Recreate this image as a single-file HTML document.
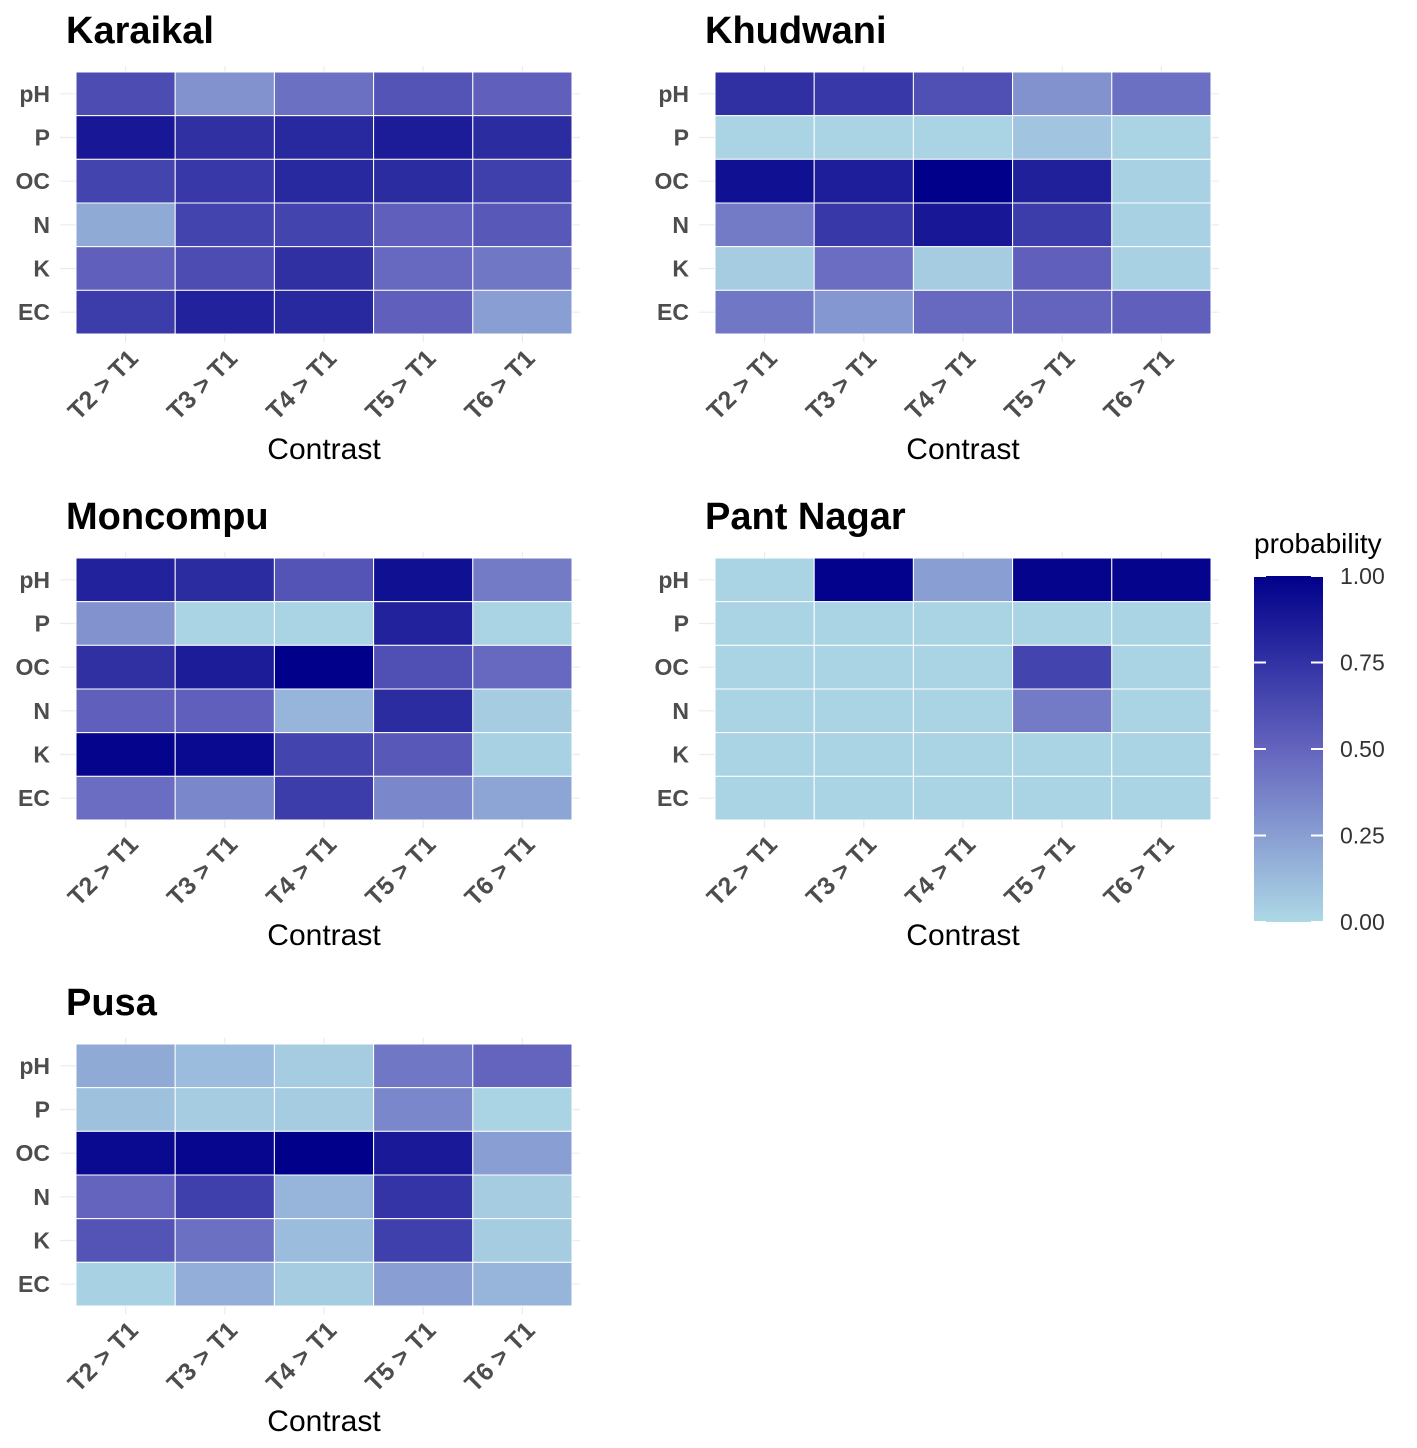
<!DOCTYPE html>
<html><head><meta charset="utf-8"><style>
html,body{margin:0;padding:0;background:#fff;}
svg{display:block;font-family:"Liberation Sans",Arial,sans-serif;}
</style></head><body>
<svg id="chart" width="1417" height="1448" viewBox="0 0 1417 1448" xmlns="http://www.w3.org/2000/svg">
<defs><linearGradient id="grad" x1="0" y1="1" x2="0" y2="0">
<stop offset="0" stop-color="#ADD8E6"/><stop offset="0.5" stop-color="#6464BE"/><stop offset="1" stop-color="#00008B"/>
</linearGradient></defs>
<g id="legend">
<text x="1254" y="553" font-size="28" fill="#000">probability</text>
<rect x="1254" y="576" width="69" height="346" fill="url(#grad)"/>
</g>
</svg>
<script>
const rows = ["pH","P","OC","N","K","EC"];
const cols = ["T2 > T1","T3 > T1","T4 > T1","T5 > T1","T6 > T1"];
const sites = ["Karaikal","Khudwani","Moncompu","Pant Nagar","Pusa"];
const karaikal = [[0.62,0.3,0.45,0.58,0.52],[0.88,0.76,0.8,0.86,0.78],[0.66,0.72,0.8,0.78,0.68],[0.2,0.66,0.66,0.52,0.56],[0.52,0.62,0.76,0.48,0.42],[0.7,0.83,0.8,0.52,0.25]];
const khudwani = [[0.76,0.72,0.6,0.3,0.45],[0.02,0.02,0.02,0.08,0.02],[0.92,0.85,1.0,0.84,0.03],[0.4,0.72,0.88,0.7,0.03],[0.05,0.46,0.05,0.52,0.03],[0.42,0.28,0.48,0.5,0.52]];
const moncompu = [[0.83,0.78,0.58,0.92,0.4],[0.3,0.02,0.02,0.83,0.02],[0.76,0.86,1.0,0.6,0.48],[0.52,0.52,0.15,0.78,0.05],[0.98,0.95,0.66,0.56,0.03],[0.46,0.35,0.7,0.35,0.22]];
const pantNagar = [[0.02,0.99,0.25,0.98,0.98],[0.02,0.02,0.02,0.02,0.02],[0.02,0.02,0.02,0.66,0.02],[0.02,0.02,0.02,0.4,0.02],[0.02,0.02,0.02,0.02,0.02],[0.02,0.02,0.02,0.02,0.02]];
const pusa = [[0.2,0.12,0.05,0.42,0.5],[0.1,0.05,0.05,0.35,0.02],[0.95,0.97,1.0,0.87,0.25],[0.5,0.68,0.15,0.74,0.05],[0.58,0.45,0.12,0.68,0.05],[0.03,0.18,0.05,0.25,0.15]];
const legendTicks = [0,0.25,0.5,0.75,1];
const legendLabels = ["0.00","0.25","0.50","0.75","1.00"];

const NS="http://www.w3.org/2000/svg";
const svg=document.getElementById('chart');
function mk(tag,attrs,parent){const e=document.createElementNS(NS,tag);for(const k in attrs)e.setAttribute(k,attrs[k]);(parent||svg).appendChild(e);return e;}
const c0=[173,216,230],cm=[100,100,190],c1=[0,0,139];
function color(v){let a,b,t;if(v<0.5){a=c0;b=cm;t=v/0.5;}else{a=cm;b=c1;t=(v-0.5)/0.5;}
return "rgb("+a.map((x,i)=>Math.round(x+(b[i]-x)*t)).join(",")+")";}
const data=[karaikal,khudwani,moncompu,pantNagar,pusa];
const origins=[[76,72],[715,72],[76,558],[715,558],[76,1044]];
const W=496,H=262;
data.forEach((mat,p)=>{
  const [ox,oy]=origins[p];
  const cw=W/cols.length,rh=H/rows.length;
  const xs=i=>ox+cw*(i+0.5), ys=j=>oy+rh*(j+0.5);
  const g=mk('g',{});
  
  
  rows.forEach((r,j)=>{mk('line',{x1:ox-16,x2:ox+W+8,y1:ys(j),y2:ys(j),stroke:'#ebebeb','stroke-width':1.2},g);});
  cols.forEach((c,i)=>{mk('line',{x1:xs(i),x2:xs(i),y1:oy-6,y2:oy+H+8,stroke:'#ebebeb','stroke-width':1.2},g);});
  mat.forEach((row,j)=>row.forEach((v,i)=>{
    const r=mk('rect',{x:ox+cw*i,y:oy+rh*j,width:cw,height:rh,fill:color(v),stroke:'#fff','stroke-width':1},g);
    
    
  }));
  const t=mk('text',{x:ox-10,y:oy-29,'font-size':38,'font-weight':'bold',fill:'#000'},g);t.textContent=sites[p];
  
  
  rows.forEach((r,j)=>{const e=mk('text',{x:ox-26,y:ys(j)+8,'font-size':23,'font-weight':'bold',fill:'#4d4d4d','text-anchor':'end'},g);e.textContent=r;
    
    });
  cols.forEach((c,i)=>{const x=xs(i)+14,y=oy+H+26;const e=mk('text',{x:x,y:y,'font-size':25,'font-weight':'bold',fill:'#4d4d4d','text-anchor':'end',transform:'rotate(-45 '+x+' '+y+')'},g);e.textContent=c;
    
    });
  const xt=mk('text',{x:ox+W/2,y:oy+H+125,'font-size':30,fill:'#000','text-anchor':'middle'},g);xt.textContent='Contrast';
  
  
});
const lg=document.getElementById('legend');
legendTicks.forEach((v,k)=>{const y=922-346*v;
  mk('line',{x1:1254,x2:1266,y1:y,y2:y,stroke:'#fff','stroke-width':2},lg);
  mk('line',{x1:1311,x2:1323,y1:y,y2:y,stroke:'#fff','stroke-width':2},lg);
  const t=mk('text',{x:1340,y:y+8,'font-size':23,fill:'#333'},lg);t.textContent=legendLabels[k];
  
  });
</script>
</body></html>
